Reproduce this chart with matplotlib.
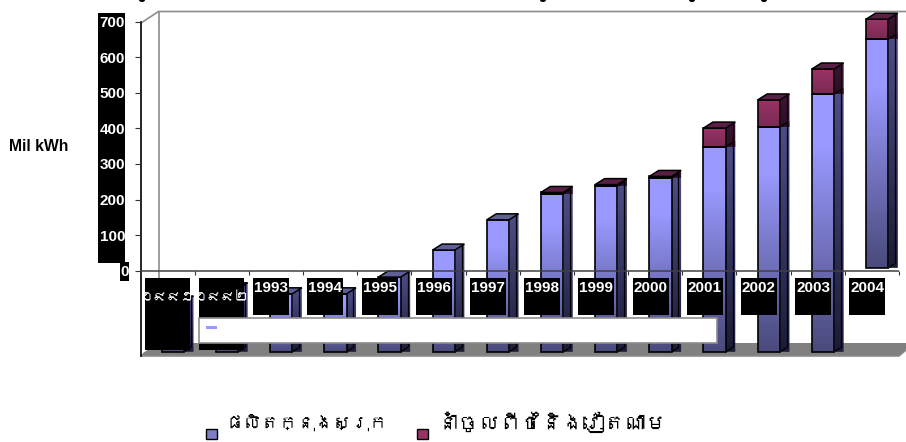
#!/usr/bin/env python3
# -*- coding: utf-8 -*-

import numpy as np
import matplotlib
matplotlib.use("Agg")
import matplotlib.pyplot as plt
from matplotlib import font_manager, ft2font
from matplotlib.colors import LinearSegmentedColormap
from matplotlib.patches import Ellipse, Polygon, Rectangle
from matplotlib.transforms import Affine2D, ScaledTranslation

years = ["១៩៩១", "១៩៩២", "1993", "1994", "1995", "1996", "1997",
         "1998", "1999", "2000", "2001", "2002", "2003", "2004"]
# values as read against the drawn axis (the bars run through the zero line)
domestic = [-88, -51, -65, -65, -18, 58, 143, 216, 238, 261, 348, 404, 497, 651]
imports = [0, 0, 0, 0, 0, 0, 0, 4, 4, 4, 53, 76, 70, 56]
bar_base = [-228, -228, -228, -228, -228, -228, -228, -228, -228, -228, -228, -228, -228, 8]
y_ticks = [0, 100, 200, 300, 400, 500, 600, 700]
legend_labels = ["ផលិតក្នុងស្រុក", "នាំចូលពីថៃនិងវៀតណាម"]


def khmer_family():
    # use an installed font that has Khmer glyphs, if there is one
    for f in font_manager.fontManager.ttflist:
        try:
            if 0x1780 in ft2font.FT2Font(f.fname).get_charmap():
                return f.name
        except Exception:
            pass
    return "Noto Sans"


KHMER = [khmer_family(), "DejaVu Sans"]
LATIN = "Liberation Sans"

W, H = 906, 442
fig = plt.figure(figsize=(W / 100, H / 100), dpi=100, facecolor="white")
# pixel coordinates, origin top left, for the chart furniture
px = Affine2D().scale(1, -1).translate(0, H)

# axes: x 140.5..899 px for 14 categories, y zero at 270.7 px, 700 at 22 px
top_px, bot_px = 4.0, 358.0
PER_UNIT = 0.3557
ax = fig.add_axes([140.5 / W, 1 - bot_px / H, (899 - 140.5) / W, (bot_px - top_px) / H])
ax.set_zorder(2)
ax.patch.set_visible(False)
for s in ax.spines.values():
    s.set_visible(False)
ax.spines["bottom"].set_position(("data", 0))

# back wall and floor
GREY = "#8c8c8c"
fig.add_artist(Polygon([(141, 356), (899, 356), (906, 350), (906, 343), (158, 343), (143, 353)],
                       transform=px, fc="#808080", ec="none", zorder=0))
fig.add_artist(plt.Line2D([141, 158.5, 906], [23, 11.5, 11.5], transform=px, color=GREY, lw=1.2, zorder=0))
fig.add_artist(plt.Line2D([158.5, 158.5], [11.5, 343], transform=px, color=GREY, lw=1.2, zorder=0))
fig.add_artist(plt.Line2D([141, 899, 906], [356, 356, 350], transform=px, color=GREY, lw=1.2, zorder=0))

blue = LinearSegmentedColormap.from_list("b", [(0, "#9999FF"), (0.2, "#9999FF"), (1, "#4A4A7C")])
blue_side = LinearSegmentedColormap.from_list("bs", ["#4E4E88", "#1C1C38"])
red = LinearSegmentedColormap.from_list("r", ["#993366", "#7A2A55"])
red_side = LinearSegmentedColormap.from_list("rs", ["#3E1634", "#2A0E24"])

FRONT_L, FRONT_W = 21.2 / 54.2, 22.3 / 54.2
DX, DY = 9.5 / 54.2, 6 / PER_UNIT


def solid(x0, y0, y1, cmap, side_cmap, top, draw_top):
    x1 = x0 + FRONT_W
    grad = np.linspace(0, 1, 64).reshape(-1, 1)
    # right side face, the lower corner stays filled as in the reference
    side = Polygon([(x1, y1), (x1 + DX, y1 + DY), (x1 + DX, y0), (x1, y0)], fc="none", ec="none", zorder=1.5)
    ax.add_patch(side)
    im = ax.imshow(grad, extent=(x1, x1 + DX, y0, y1 + DY), origin="upper", aspect="auto",
                   cmap=side_cmap, zorder=1.5)
    im.set_clip_path(side)
    ax.plot([x1 + DX * 0.72] * 2, [y0 + DY, y1 + DY * 0.72], color="black", lw=0.9, zorder=2)
    ax.plot([x1, x1 + DX * 0.72], [y0, y0 + DY * 0.72], color="black", lw=0.9, zorder=2)
    # front face with its gradient
    bars = ax.bar(x0, y1 - y0, FRONT_W, bottom=y0, align="edge", fc="none", ec="black", lw=1.2, zorder=3)
    im = ax.imshow(grad, extent=(x0, x1, y0, y1), origin="upper", aspect="auto", cmap=cmap, zorder=2)
    im.set_clip_path(bars[0])
    if draw_top:
        ax.add_patch(Polygon([(x0, y1), (x1, y1), (x1 + DX, y1 + DY), (x0 + DX, y1 + DY)],
                             fc=top, ec="black", lw=1.1, zorder=3))


for i, (d, m, b) in enumerate(zip(domestic, imports, bar_base)):
    x0 = i + FRONT_L
    solid(x0, b, d, blue, blue_side, "#5F5F96", m == 0)
    if m:
        solid(x0, d, d + m, red, red_side, "#5A1F45", True)

ax.set_xlim(0, 14)
ax.set_ylim((270.7 - bot_px) / PER_UNIT, (270.7 - top_px) / PER_UNIT)

# axis lines and ticks
ax.set_xticks(np.arange(15))
ax.set_xticklabels([])
ax.set_yticks(y_ticks)
ax.set_yticklabels([str(v) for v in y_ticks], color="white", fontweight="bold", fontsize=11, family=LATIN)
ax.tick_params(axis="y", length=4.3, width=0.8, color="#333333", pad=6.8)
ax.tick_params(axis="x", length=3, width=0.8, color="#333333", direction="out")
# the 0 label sits a little further right
zero_lab = ax.get_yticklabels()[0]
zero_lab.set_transform(zero_lab.get_transform() + ScaledTranslation(4 / 100, 0, fig.dpi_scale_trans))
ax.axhline(0, color="#404040", lw=1.1, zorder=4)
fig.add_artist(plt.Line2D([140.5, 140.5], [22, 356], transform=px, color="black", lw=1.2, zorder=1))

# black label backgrounds
fig.add_artist(Rectangle((98, 13), 27, 250, transform=px, fc="black", ec="none", zorder=0.5))
fig.add_artist(Rectangle((120, 262), 9, 19, transform=px, fc="black", ec="none", zorder=0.5))

fig.text(9 / W, 1 - 147 / H, "Mil kWh", fontsize=11.3, fontweight="bold", family=LATIN, va="center", ha="left")

# category labels sit in black boxes over the bars
for i, lab in enumerate(years):
    left = 140.5 + i * 54.2 + 4.2
    khmer = i < 2
    w, h = (45, 72) if khmer else (36, 37)
    ax.add_patch(Rectangle((left, 278), w, h, transform=px, fc="black", ec="none", zorder=5, clip_on=False))
    ax.text(left + w / 2, 297 if khmer else 288, lab, transform=px, color="white", ha="center", va="center",
            fontsize=10 if khmer else 11, fontweight="normal" if khmer else "bold",
            family=KHMER if khmer else LATIN, zorder=6, clip_on=False)

# empty white box across the lower bars
ax.add_patch(Rectangle((199, 318), 518, 24.5, transform=px, fc="white", ec=GREY, lw=1.2, zorder=7, clip_on=False))
ax.add_patch(Rectangle((206, 326), 11, 3, transform=px, fc="#9999FF", ec="none", zorder=8, clip_on=False))

# clipped bits of a title at the very top edge
for tx in [142, 543, 692, 764]:
    fig.add_artist(Ellipse((tx, 0), 6, 4, transform=px, fc="black", ec="none"))

# legend at the bottom
for sx, tx, lab, col, fs in zip([206, 417], [226, 438], legend_labels, ["#7F7FC4", "#993366"], [13, 15]):
    fig.add_artist(Rectangle((sx, 429), 11, 10, transform=px, fc=col, ec="black", lw=1))
    fig.text(tx / W, 1 - 422 / H, lab, fontsize=fs, family=KHMER, va="center", ha="left")

fig.savefig("out.png", dpi=100)
